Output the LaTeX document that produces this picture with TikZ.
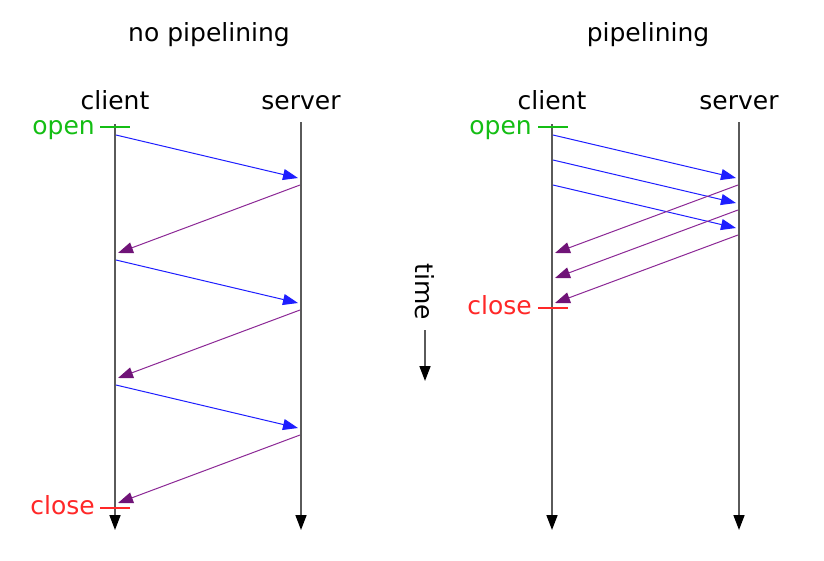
\documentclass[tikz,border=0pt]{standalone}
\usepackage{fontspec}
\setmainfont{DejaVu Sans}
\usetikzlibrary{arrows.meta}
\definecolor{opengreen}{RGB}{20,190,20}
\definecolor{closered}{RGB}{255,40,40}
\definecolor{msgblue}{RGB}{30,30,255}
\definecolor{msgpurple}{RGB}{140,40,150}
\definecolor{tippurple}{RGB}{112,20,120}
\definecolor{lifegray}{RGB}{90,90,90}
\begin{document}
\begin{tikzpicture}[x=1pt,y=-1pt,
  lbl/.style={font=\fontsize{25}{28}\selectfont, inner sep=0pt},
  life/.style={draw=lifegray, line width=1.6pt, -{Triangle[length=15pt,width=11pt,color=black,fill=black]}},
  req/.style={draw=msgblue, line width=1pt, -{Triangle[length=15pt,width=11pt,color=msgblue,fill=msgblue]}},
  resp/.style={draw=msgpurple, line width=1pt, -{Triangle[length=15pt,width=11pt,color=tippurple,fill=tippurple]}},
  opentick/.style={draw=opengreen, line width=1.6pt},
  closetick/.style={draw=closered, line width=1.6pt}]
\useasboundingbox (0,0) rectangle (824,560);
\fill[white] (0,0) rectangle (824,560);

% titles
\node[lbl] (t1) at (209,35) {no pipelining};
\node[lbl] (t2) at (648,35) {pipelining};

% ---------- left: no pipelining ----------
\node[lbl, anchor=base] (c1) at (115,109) {client};
\node[lbl, anchor=base] (s1) at (301,109) {server};
\coordinate (c1top) at (115,124);
\coordinate (c1bot) at (115,530);
\coordinate (s1top) at (301,122);
\coordinate (s1bot) at (301,530);
\draw[life] (c1top) -- (c1bot);
\draw[life] (s1top) -- (s1bot);

\coordinate (o1a) at (100,127); \coordinate (o1b) at (130,127);
\draw[opentick] (o1a) -- (o1b);
\node[lbl, text=opengreen, anchor=base east] (open1) at (95,134) {open};
\coordinate (x1a) at (100,508); \coordinate (x1b) at (130,508);
\draw[closetick] (x1a) -- (x1b);
\node[lbl, text=closered, anchor=base east] (close1) at (95,514) {close};

\foreach \i/\y in {1/135,2/260,3/385}{
  \coordinate (rqa\i) at (116,\y);
  \coordinate (rqb\i) at (298,\y+43);
  \coordinate (rsa\i) at (300,\y+50);
  \coordinate (rsb\i) at (118,\y+118);
  \draw[req] (rqa\i) -- (rqb\i);
  \draw[resp] (rsa\i) -- (rsb\i);
}

% time arrow
\node[lbl, rotate=-90] (time) at (425,292) {time};
\coordinate (ta) at (425,330);
\coordinate (tb) at (425,381);
\draw[life] (ta) -- (tb);

% ---------- right: pipelining ----------
\node[lbl, anchor=base] (c2) at (552,109) {client};
\node[lbl, anchor=base] (s2) at (739,109) {server};
\coordinate (c2top) at (552,124);
\coordinate (c2bot) at (552,530);
\coordinate (s2top) at (739,122);
\coordinate (s2bot) at (739,530);
\draw[life] (c2top) -- (c2bot);
\draw[life] (s2top) -- (s2bot);

\coordinate (o2a) at (538,127); \coordinate (o2b) at (568,127);
\draw[opentick] (o2a) -- (o2b);
\node[lbl, text=opengreen, anchor=base east] (open2) at (532,134) {open};
\coordinate (x2a) at (538,308); \coordinate (x2b) at (568,308);
\draw[closetick] (x2a) -- (x2b);
\node[lbl, text=closered, anchor=base east] (close2) at (532,314) {close};

\foreach \i/\y in {1/135,2/160,3/185}{
  \coordinate (prqa\i) at (553,\y);
  \coordinate (prqb\i) at (736,\y+43);
  \coordinate (prsa\i) at (738,\y+50);
  \coordinate (prsb\i) at (555,\y+118);
  \draw[req] (prqa\i) -- (prqb\i);
}
\foreach \i in {1,2,3}{
  \draw[resp] (prsa\i) -- (prsb\i);
}
\end{tikzpicture}
\end{document}
